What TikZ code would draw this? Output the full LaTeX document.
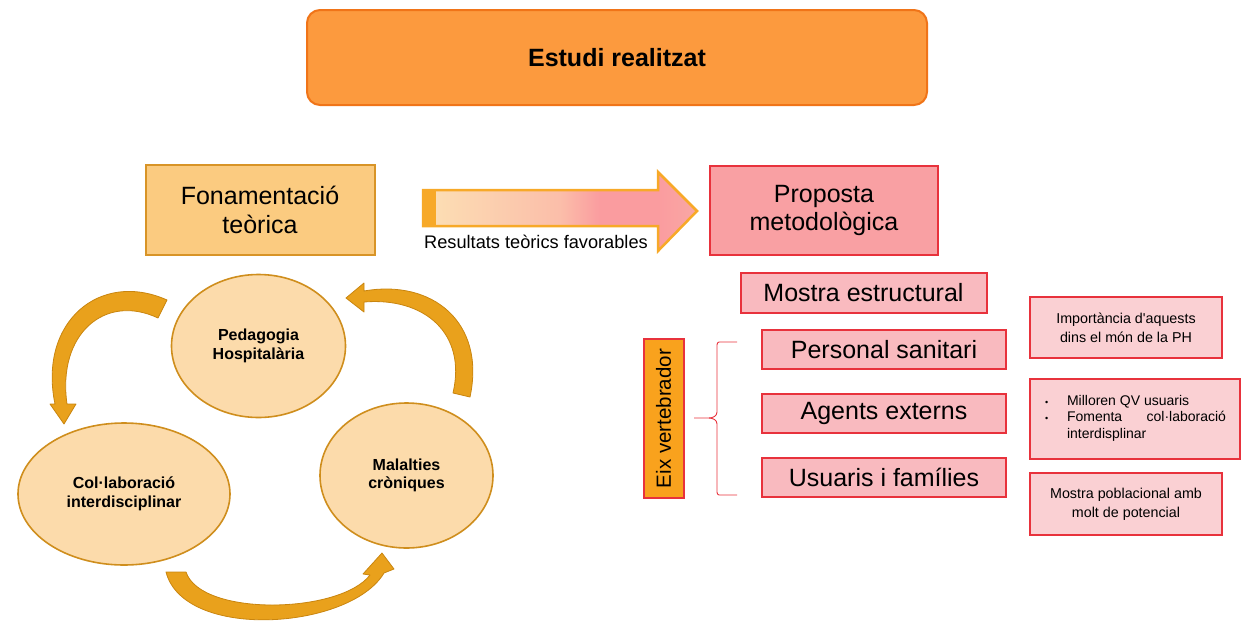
\documentclass[tikz,border=0pt]{standalone}
\usepackage{fontspec}
\setmainfont{Liberation Sans}
\usetikzlibrary{shapes.geometric}
\definecolor{topfill}{HTML}{FC9A3E}
\definecolor{topdraw}{HTML}{F07418}
\definecolor{fonfill}{HTML}{FBCB80}
\definecolor{fondraw}{HTML}{D89427}
\definecolor{propfill}{HTML}{F9A0A3}
\definecolor{reddraw}{HTML}{E8323C}
\definecolor{smallfill}{HTML}{F9BABF}
\definecolor{notefill}{HTML}{FAD0D3}
\definecolor{eixfill}{HTML}{F9A21D}
\definecolor{ellfill}{HTML}{FCDBAB}
\definecolor{elldraw}{HTML}{CF8E1D}
\definecolor{carrow}{HTML}{E9A11C}
\definecolor{carrowdraw}{HTML}{C9850F}
\definecolor{arrdraw}{HTML}{F7A928}
\definecolor{shadeA}{HTML}{FCE0B4}
\definecolor{shadeB}{HTML}{FA9C9F}
\definecolor{shadeC}{HTML}{F9A7A4}
\begin{document}
\begin{tikzpicture}[x=1pt,y=-1pt,
  box/.style={draw, line width=2pt, inner sep=0pt, align=center},
  bigtxt/.style={font=\fontsize{25}{28.5}\selectfont},
  notetxt/.style={font=\fontsize{14.3}{19}\selectfont},
  ellnode/.style={ellipse, draw=elldraw, fill=ellfill, line width=1.6pt, inner sep=0pt, align=center, font=\fontsize{16}{18.5}\selectfont\bfseries},
  cband/.style={fill=carrow, draw=carrowdraw, line width=0.8pt, line join=round}
]
\useasboundingbox (0,0) rectangle (1244,624);

% top box
\node[box, draw=topdraw, fill=topfill, rounded corners=13pt, minimum width=620pt, minimum height=95pt,
  font=\fontsize{25}{28}\selectfont\bfseries] (top) at (617,57.5) {Estudi realitzat};

% left box
\node[box, draw=fondraw, fill=fonfill, minimum width=229pt, minimum height=90pt, bigtxt] (fon) at (260,210) {Fonamentació\\teòrica};

% big arrow
\shade[left color=shadeA, right color=shadeA!50!shadeB] (423,190) rectangle (560,226);
\shade[left color=shadeA!50!shadeB, right color=shadeB] (560,190) rectangle (600,226);
\fill[shadeB] (600,190) rectangle (659,226);
\shade[left color=shadeB, right color=shadeC] (658,172) -- (697,211) -- (658,251) -- cycle;
\fill[arrdraw] (423,190) rectangle (436,226);
\draw[arrdraw, line width=2.5pt, line join=miter]
  (423,190) -- (658,190) -- (658,172) -- (697,211) -- (658,251) -- (658,226) -- (423,226) -- cycle;
\node[anchor=west, inner sep=0pt, font=\fontsize{18.2}{20}\selectfont] (res) at (424,242) {Resultats teòrics favorables};

% right header
\node[box, draw=reddraw, fill=propfill, minimum width=228pt, minimum height=89pt, bigtxt] (prop) at (824,210.5) {Proposta\\metodològica};

\node[box, draw=reddraw, fill=smallfill, minimum width=246pt, minimum height=40pt, bigtxt] (mostra) at (863.5,293) {Mostra estructural};
\node[box, draw=reddraw, fill=smallfill, minimum width=244pt, minimum height=39pt, bigtxt] (pers) at (884,349.5) {Personal sanitari};
\node[box, draw=reddraw, fill=smallfill, minimum width=244pt, minimum height=39pt, bigtxt] (agents) at (884,413.5) {Agents externs};
\node[box, draw=reddraw, fill=smallfill, minimum width=244pt, minimum height=39pt, bigtxt] (usu) at (884,477.5) {Usuaris i famílies};

% eix
\node[box, draw=reddraw, fill=eixfill, rotate=90, minimum width=159pt, minimum height=40pt,
  font=\fontsize{20.5}{22}\selectfont] (eix) at (663.5,418.5) {Eix vertebrador};

% brace
\coordinate (bt) at (737,342);
\coordinate (bm) at (694,418);
\coordinate (bb) at (737,495);
\draw[reddraw, line width=0.9pt, line join=round]
  (bt) -- (719,342) to[out=180,in=90] (717,345) -- (717,412) to[out=-90,in=0] (709,418) -- (bm);
\draw[reddraw, line width=0.9pt, line join=round]
  (709,418) to[out=0,in=90] (717,424) -- (717,492) to[out=-90,in=180] (719,495) -- (bb);

% notes
\node[box, draw=reddraw, fill=notefill, minimum width=192pt, minimum height=61pt, notetxt] (imp) at (1126,327.5) {Importància d\textquotesingle aquests\\dins el món de la PH};
\node[box, draw=reddraw, fill=notefill, minimum width=210pt, minimum height=80pt, notetxt] (mill) at (1135,419)
  {\hyphenpenalty=10000\exhyphenpenalty=10000\fontsize{14}{17}\selectfont
   \begin{tabular}{@{}p{23pt}@{}p{159pt}@{}}
   \hspace{1pt}{\fontsize{9}{9}\selectfont\textbullet} & Milloren QV usuaris\\[-1pt]
   \hspace{1pt}{\fontsize{9}{9}\selectfont\textbullet} & Fomenta col·laboració interdisplinar
   \end{tabular}};
\node[box, draw=reddraw, fill=notefill, minimum width=192pt, minimum height=62pt, notetxt] (pob) at (1126,504) {Mostra poblacional amb\\molt de potencial};

% ellipses
\node[ellnode, minimum width=174pt, minimum height=143pt] (ped) at (258.5,346) {Pedagogia\\Hospitalària};
\node[ellnode, minimum width=212pt, minimum height=142pt] (col) at (124,494) {Col·laboració\\interdisciplinar};
\node[ellnode, minimum width=173pt, minimum height=145pt] (mal) at (406.5,475.5) {Malalties\\cròniques};

% curved arrows
\path[cband] (167,300) .. controls (100,270) and (38,322) .. (55,404)
  -- (50,404) -- (64,424) -- (76,404) -- (67,404)
  .. controls (57,334) and (105,293) .. (158,318) -- cycle;
\path[cband] (470,397) .. controls (486,322) and (432,279) .. (364,291)
  -- (364,283) -- (346,298) -- (364,312) -- (364,302)
  .. controls (424,297) and (467,333) .. (453,393) -- cycle;
\path[cband] (166,572) .. controls (184,641) and (350,630) .. (384,573)
  -- (394,569) -- (382,553) -- (363,574) -- (370,575)
  .. controls (340,614) and (201,617) .. (186,572) -- cycle;
\end{tikzpicture}
\end{document}
